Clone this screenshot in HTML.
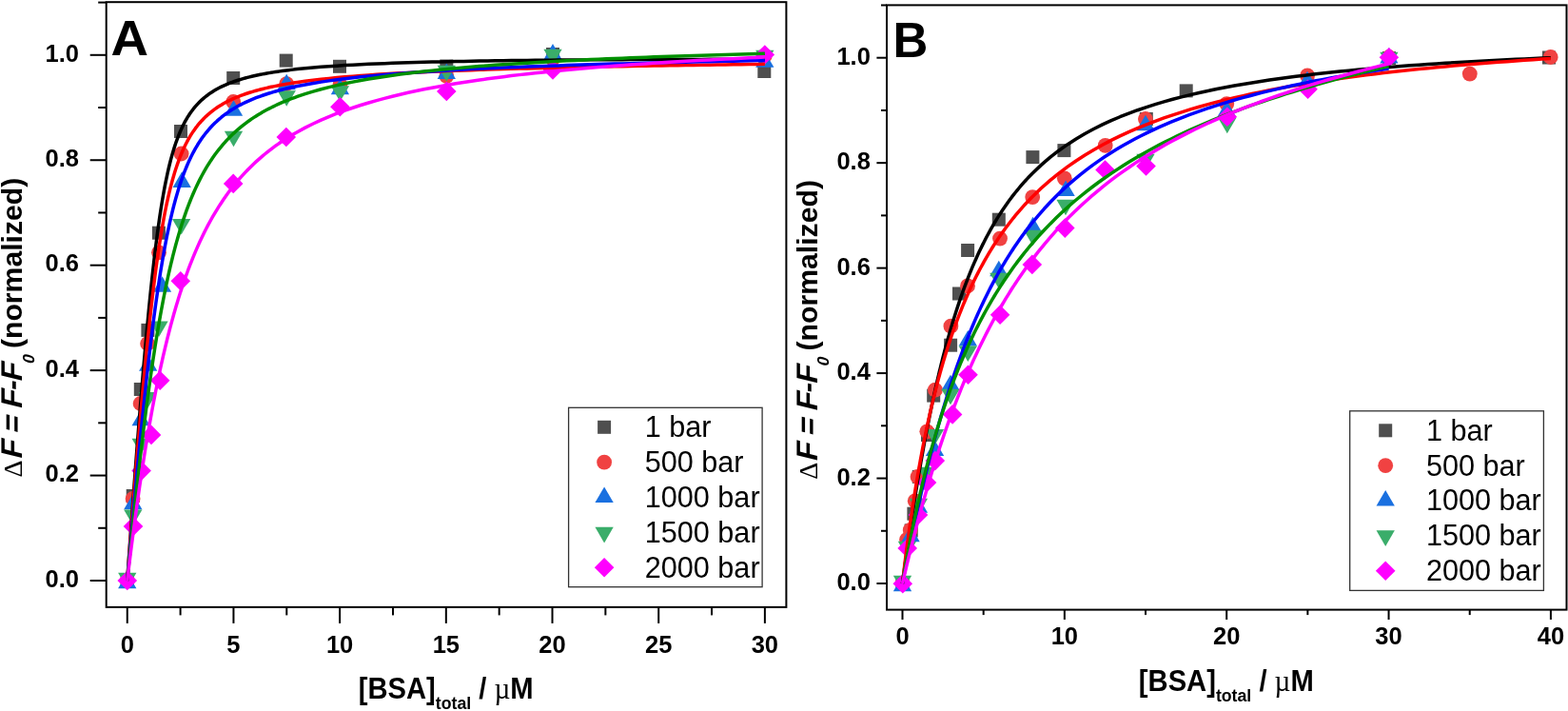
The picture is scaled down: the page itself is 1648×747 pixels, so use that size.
<!DOCTYPE html>
<html><head><meta charset="utf-8"><title>Binding curves</title>
<style>html,body{margin:0;padding:0;background:#fff;}svg{display:block;}</style></head>
<body><svg width="1648" height="747" viewBox="0 0 1648 747">
<rect width="1648" height="747" fill="#fff"/>
<rect x="126.75" y="603" width="14" height="14" fill="#4f4f4f"/>
<rect x="132.7" y="514" width="14" height="14" fill="#4f4f4f"/>
<rect x="140.8" y="402" width="14" height="14" fill="#4f4f4f"/>
<rect x="148.4" y="339.9" width="14" height="14" fill="#4f4f4f"/>
<rect x="159.9" y="237.7" width="14" height="14" fill="#4f4f4f"/>
<rect x="183" y="131" width="14" height="14" fill="#4f4f4f"/>
<rect x="238.2" y="75" width="14" height="14" fill="#4f4f4f"/>
<rect x="293.7" y="56.6" width="14" height="14" fill="#4f4f4f"/>
<rect x="350" y="62.8" width="14" height="14" fill="#4f4f4f"/>
<rect x="462.3" y="62.5" width="14" height="14" fill="#4f4f4f"/>
<rect x="574" y="50" width="14" height="14" fill="#4f4f4f"/>
<rect x="796.3" y="68" width="14" height="14" fill="#4f4f4f"/>
<circle cx="133.75" cy="610" r="7.9" fill="#f04242"/>
<circle cx="139.6" cy="524" r="7.9" fill="#f04242"/>
<circle cx="147.6" cy="424" r="7.9" fill="#f04242"/>
<circle cx="155.1" cy="361" r="7.9" fill="#f04242"/>
<circle cx="167" cy="265.3" r="7.9" fill="#f04242"/>
<circle cx="190.6" cy="161.5" r="7.9" fill="#f04242"/>
<circle cx="245.2" cy="107" r="7.9" fill="#f04242"/>
<circle cx="301.2" cy="88.2" r="7.9" fill="#f04242"/>
<circle cx="357.4" cy="89.2" r="7.9" fill="#f04242"/>
<circle cx="469.3" cy="80" r="7.9" fill="#f04242"/>
<circle cx="581" cy="62" r="7.9" fill="#f04242"/>
<circle cx="803.8" cy="58.5" r="7.9" fill="#f04242"/>
<path d="M133.75,601.7 L143.4,618.3 L124.1,618.3Z" fill="#1a70e0"/>
<path d="M139.8,518.7 L149.45,535.3 L130.15,535.3Z" fill="#1a70e0"/>
<path d="M148.2,430.7 L157.85,447.3 L138.55,447.3Z" fill="#1a70e0"/>
<path d="M155.7,373.2 L165.35,389.8 L146.05,389.8Z" fill="#1a70e0"/>
<path d="M170.5,290.2 L180.15,306.8 L160.85,306.8Z" fill="#1a70e0"/>
<path d="M191.2,180.3 L200.85,196.9 L181.55,196.9Z" fill="#1a70e0"/>
<path d="M245.5,105.2 L255.15,121.8 L235.85,121.8Z" fill="#1a70e0"/>
<path d="M301.2,77.7 L310.85,94.3 L291.55,94.3Z" fill="#1a70e0"/>
<path d="M357.4,82.7 L367.05,99.3 L347.75,99.3Z" fill="#1a70e0"/>
<path d="M469.3,66.4 L478.95,83 L459.65,83Z" fill="#1a70e0"/>
<path d="M581,46.1 L590.65,62.7 L571.35,62.7Z" fill="#1a70e0"/>
<path d="M803.8,54.2 L813.45,70.8 L794.15,70.8Z" fill="#1a70e0"/>
<path d="M124.1,601.7 L143.4,601.7 L133.75,618.3Z" fill="#3aad6a"/>
<path d="M130.15,535.5 L149.45,535.5 L139.8,552.1Z" fill="#3aad6a"/>
<path d="M138.55,460.7 L157.85,460.7 L148.2,477.3Z" fill="#3aad6a"/>
<path d="M145.75,412.1 L165.05,412.1 L155.4,428.7Z" fill="#3aad6a"/>
<path d="M157.35,337.4 L176.65,337.4 L167,354Z" fill="#3aad6a"/>
<path d="M180.95,229.9 L200.25,229.9 L190.6,246.5Z" fill="#3aad6a"/>
<path d="M235.85,137.7 L255.15,137.7 L245.5,154.3Z" fill="#3aad6a"/>
<path d="M291.55,95.2 L310.85,95.2 L301.2,111.8Z" fill="#3aad6a"/>
<path d="M347.75,90.2 L367.05,90.2 L357.4,106.8Z" fill="#3aad6a"/>
<path d="M459.65,68.8 L478.95,68.8 L469.3,85.4Z" fill="#3aad6a"/>
<path d="M571.35,51.7 L590.65,51.7 L581,68.3Z" fill="#3aad6a"/>
<path d="M794.15,52.7 L813.45,52.7 L803.8,69.3Z" fill="#3aad6a"/>
<path d="M133.75,599.7 L144.05,610 L133.75,620.3 L123.45,610Z" fill="#ff00ff"/>
<path d="M140,542.7 L150.3,553 L140,563.3 L129.7,553Z" fill="#ff00ff"/>
<path d="M148.6,484.3 L158.9,494.6 L148.6,504.9 L138.3,494.6Z" fill="#ff00ff"/>
<path d="M159,446.6 L169.3,456.9 L159,467.2 L148.7,456.9Z" fill="#ff00ff"/>
<path d="M168.2,389.5 L178.5,399.8 L168.2,410.1 L157.9,399.8Z" fill="#ff00ff"/>
<path d="M189.8,285 L200.1,295.3 L189.8,305.6 L179.5,295.3Z" fill="#ff00ff"/>
<path d="M245.2,182.6 L255.5,192.9 L245.2,203.2 L234.9,192.9Z" fill="#ff00ff"/>
<path d="M300.8,133.7 L311.1,144 L300.8,154.3 L290.5,144Z" fill="#ff00ff"/>
<path d="M357.4,102 L367.7,112.3 L357.4,122.6 L347.1,112.3Z" fill="#ff00ff"/>
<path d="M469.3,85.7 L479.6,96 L469.3,106.3 L459,96Z" fill="#ff00ff"/>
<path d="M581,63.2 L591.3,73.5 L581,83.8 L570.7,73.5Z" fill="#ff00ff"/>
<path d="M803.8,47.2 L814.1,57.5 L803.8,67.8 L793.5,57.5Z" fill="#ff00ff"/>
<path d="M133.75,610 L134.99,592.55 L136.23,575.24 L137.47,558.08 L138.71,541.09 L139.96,524.26 L141.2,507.63 L142.44,491.2 L143.68,474.98 L144.92,459 L145.87,446.97 L146.81,435.1 L147.76,423.4 L148.71,411.86 L149.65,400.5 L150.6,389.33 L151.54,378.36 L152.49,367.59 L153.44,357.03 L154.38,346.71 L155.33,336.61 L156.28,326.75 L157.22,317.15 L158.17,307.8 L159.12,298.71 L160.06,289.89 L161.01,281.34 L161.96,273.07 L162.9,265.08 L163.85,257.38 L164.8,249.95 L165.74,242.81 L166.69,235.95 L167.64,229.37 L168.58,223.05 L169.53,217.01 L170.48,211.23 L171.42,205.71 L172.37,200.43 L173.31,195.4 L174.26,190.59 L175.21,186.02 L176.15,181.65 L177.1,177.49 L178.05,173.53 L178.99,169.76 L179.94,166.16 L180.89,162.74 L181.83,159.48 L182.78,156.37 L183.73,153.4 L184.67,150.57 L185.62,147.88 L186.57,145.3 L187.51,142.85 L188.46,140.5 L189.41,138.26 L190.35,136.12 L191.3,134.07 L192.25,132.11 L193.19,130.23 L194.14,128.43 L195.08,126.71 L196.03,125.06 L196.98,123.47 L197.92,121.95 L198.87,120.49 L199.82,119.08 L200.76,117.73 L203.04,114.68 L205.32,111.9 L207.6,109.35 L209.88,107 L212.16,104.84 L214.44,102.85 L216.72,101 L219,99.28 L221.28,97.68 L223.56,96.2 L225.84,94.81 L228.12,93.51 L230.4,92.29 L232.68,91.14 L234.95,90.06 L237.23,89.05 L239.51,88.09 L241.79,87.18 L244.07,86.32 L246.35,85.51 L248.63,84.74 L250.91,84.01 L253.19,83.31 L255.47,82.65 L257.75,82.01 L260.03,81.41 L262.31,80.84 L264.59,80.28 L266.87,79.76 L269.15,79.25 L271.43,78.77 L273.7,78.31 L275.98,77.86 L278.26,77.44 L280.54,77.02 L282.82,76.63 L285.1,76.25 L287.38,75.88 L289.66,75.53 L291.94,75.19 L294.22,74.86 L296.5,74.55 L298.78,74.24 L301.06,73.95 L303.34,73.66 L305.62,73.38 L307.9,73.12 L310.17,72.86 L312.45,72.61 L320.78,71.76 L329.11,70.99 L337.44,70.31 L345.77,69.69 L354.1,69.13 L362.43,68.61 L370.76,68.15 L379.09,67.72 L387.42,67.33 L395.75,66.97 L404.08,66.63 L412.41,66.33 L420.74,66.04 L429.07,65.78 L437.4,65.53 L445.72,65.3 L454.05,65.09 L462.38,64.9 L470.71,64.71 L479.04,64.54 L487.37,64.38 L495.7,64.23 L504.03,64.09 L512.36,63.96 L520.69,63.83 L529.02,63.72 L537.35,63.61 L545.68,63.51 L554.01,63.41 L562.34,63.33 L570.67,63.24 L579,63.16 L587.32,63.09 L595.65,63.02 L603.98,62.96 L612.31,62.9 L620.64,62.84 L628.97,62.79 L637.3,62.74 L645.63,62.7 L653.96,62.65 L662.29,62.62 L670.62,62.58 L678.95,62.55 L687.28,62.52 L695.61,62.49 L703.94,62.46 L712.27,62.44 L720.6,62.42 L728.93,62.4 L737.25,62.38 L745.58,62.36 L753.91,62.35 L762.24,62.34 L770.57,62.33 L778.9,62.32 L787.23,62.31 L795.56,62.3 L803.89,62.3" fill="none" stroke="#000000" stroke-width="3.5" stroke-linejoin="round" stroke-linecap="butt"/>
<path d="M133.75,610 L134.99,593.61 L136.23,577.38 L137.47,561.31 L138.71,545.42 L139.96,529.72 L141.2,514.22 L142.44,498.93 L143.68,483.87 L144.92,469.05 L145.87,457.91 L146.81,446.94 L147.76,436.12 L148.71,425.47 L149.65,414.99 L150.6,404.7 L151.54,394.6 L152.49,384.68 L153.44,374.97 L154.38,365.47 L155.33,356.18 L156.28,347.11 L157.22,338.26 L158.17,329.64 L159.12,321.24 L160.06,313.09 L161.01,305.17 L161.96,297.48 L162.9,290.04 L163.85,282.84 L164.8,275.87 L165.74,269.14 L166.69,262.65 L167.64,256.4 L168.58,250.37 L169.53,244.57 L170.48,238.99 L171.42,233.62 L172.37,228.47 L173.31,223.52 L174.26,218.77 L175.21,214.22 L176.15,209.85 L177.1,205.66 L178.05,201.64 L178.99,197.79 L179.94,194.1 L180.89,190.56 L181.83,187.17 L182.78,183.91 L183.73,180.8 L184.67,177.8 L185.62,174.94 L186.57,172.18 L187.51,169.54 L188.46,167 L189.41,164.57 L190.35,162.23 L191.3,159.98 L192.25,157.82 L193.19,155.74 L194.14,153.74 L195.08,151.82 L196.03,149.97 L196.98,148.18 L197.92,146.46 L198.87,144.8 L199.82,143.2 L200.76,141.66 L203.04,138.16 L205.32,134.94 L207.6,131.97 L209.88,129.22 L212.16,126.68 L214.44,124.31 L216.72,122.11 L219,120.05 L221.28,118.13 L223.56,116.33 L225.84,114.65 L228.12,113.06 L230.4,111.57 L232.68,110.17 L234.95,108.84 L237.23,107.58 L239.51,106.39 L241.79,105.27 L244.07,104.2 L246.35,103.18 L248.63,102.21 L250.91,101.29 L253.19,100.41 L255.47,99.57 L257.75,98.77 L260.03,98 L262.31,97.26 L264.59,96.56 L266.87,95.88 L269.15,95.23 L271.43,94.61 L273.7,94.01 L275.98,93.43 L278.26,92.87 L280.54,92.34 L282.82,91.82 L285.1,91.32 L287.38,90.84 L289.66,90.37 L291.94,89.92 L294.22,89.49 L296.5,89.07 L298.78,88.66 L301.06,88.26 L303.34,87.88 L305.62,87.51 L307.9,87.14 L310.17,86.79 L312.45,86.45 L320.78,85.29 L329.11,84.23 L337.44,83.27 L345.77,82.39 L354.1,81.58 L362.43,80.84 L370.76,80.15 L379.09,79.51 L387.42,78.91 L395.75,78.35 L404.08,77.83 L412.41,77.34 L420.74,76.87 L429.07,76.44 L437.4,76.03 L445.72,75.63 L454.05,75.26 L462.38,74.91 L470.71,74.57 L479.04,74.25 L487.37,73.94 L495.7,73.65 L504.03,73.37 L512.36,73.1 L520.69,72.84 L529.02,72.59 L537.35,72.35 L545.68,72.12 L554.01,71.89 L562.34,71.67 L570.67,71.46 L579,71.26 L587.32,71.06 L595.65,70.87 L603.98,70.69 L612.31,70.51 L620.64,70.33 L628.97,70.16 L637.3,70 L645.63,69.83 L653.96,69.68 L662.29,69.52 L670.62,69.37 L678.95,69.23 L687.28,69.08 L695.61,68.94 L703.94,68.8 L712.27,68.67 L720.6,68.54 L728.93,68.41 L737.25,68.28 L745.58,68.16 L753.91,68.04 L762.24,67.92 L770.57,67.8 L778.9,67.68 L787.23,67.57 L795.56,67.46 L803.89,67.35" fill="none" stroke="#ff0000" stroke-width="3.5" stroke-linejoin="round" stroke-linecap="butt"/>
<path d="M133.75,610 L134.99,595.68 L136.23,581.5 L137.47,567.47 L138.71,553.58 L139.96,539.86 L141.2,526.3 L142.44,512.92 L143.68,499.72 L144.92,486.72 L145.87,476.94 L146.81,467.28 L147.76,457.74 L148.71,448.34 L149.65,439.07 L150.6,429.93 L151.54,420.94 L152.49,412.09 L153.44,403.39 L154.38,394.84 L155.33,386.45 L156.28,378.22 L157.22,370.15 L158.17,362.24 L159.12,354.5 L160.06,346.93 L161.01,339.53 L161.96,332.3 L162.9,325.25 L163.85,318.37 L164.8,311.67 L165.74,305.14 L166.69,298.79 L167.64,292.61 L168.58,286.6 L169.53,280.77 L170.48,275.11 L171.42,269.61 L172.37,264.29 L173.31,259.12 L174.26,254.12 L175.21,249.28 L176.15,244.59 L177.1,240.05 L178.05,235.66 L178.99,231.41 L179.94,227.31 L180.89,223.34 L181.83,219.5 L182.78,215.8 L183.73,212.21 L184.67,208.75 L185.62,205.41 L186.57,202.17 L187.51,199.05 L188.46,196.03 L189.41,193.11 L190.35,190.29 L191.3,187.57 L192.25,184.93 L193.19,182.38 L194.14,179.92 L195.08,177.53 L196.03,175.23 L196.98,173 L197.92,170.84 L198.87,168.75 L199.82,166.72 L200.76,164.76 L203.04,160.29 L205.32,156.13 L207.6,152.28 L209.88,148.68 L212.16,145.34 L214.44,142.21 L216.72,139.29 L219,136.55 L221.28,133.98 L223.56,131.57 L225.84,129.3 L228.12,127.16 L230.4,125.14 L232.68,123.23 L234.95,121.42 L237.23,119.71 L239.51,118.09 L241.79,116.55 L244.07,115.08 L246.35,113.69 L248.63,112.36 L250.91,111.09 L253.19,109.88 L255.47,108.73 L257.75,107.62 L260.03,106.56 L262.31,105.55 L264.59,104.57 L266.87,103.64 L269.15,102.74 L271.43,101.88 L273.7,101.05 L275.98,100.25 L278.26,99.47 L280.54,98.73 L282.82,98.01 L285.1,97.32 L287.38,96.65 L289.66,96.01 L291.94,95.38 L294.22,94.78 L296.5,94.19 L298.78,93.62 L301.06,93.07 L303.34,92.54 L305.62,92.02 L307.9,91.52 L310.17,91.03 L312.45,90.55 L320.78,88.93 L329.11,87.46 L337.44,86.11 L345.77,84.89 L354.1,83.76 L362.43,82.71 L370.76,81.75 L379.09,80.85 L387.42,80.01 L395.75,79.23 L404.08,78.49 L412.41,77.8 L420.74,77.15 L429.07,76.54 L437.4,75.95 L445.72,75.4 L454.05,74.88 L462.38,74.38 L470.71,73.9 L479.04,73.44 L487.37,73.01 L495.7,72.59 L504.03,72.19 L512.36,71.81 L520.69,71.43 L529.02,71.08 L537.35,70.73 L545.68,70.4 L554.01,70.08 L562.34,69.77 L570.67,69.47 L579,69.18 L587.32,68.89 L595.65,68.62 L603.98,68.35 L612.31,68.09 L620.64,67.84 L628.97,67.59 L637.3,67.35 L645.63,67.11 L653.96,66.88 L662.29,66.66 L670.62,66.44 L678.95,66.23 L687.28,66.02 L695.61,65.81 L703.94,65.61 L712.27,65.41 L720.6,65.22 L728.93,65.03 L737.25,64.84 L745.58,64.66 L753.91,64.48 L762.24,64.3 L770.57,64.13 L778.9,63.96 L787.23,63.79 L795.56,63.62 L803.89,63.46" fill="none" stroke="#0000ff" stroke-width="3.5" stroke-linejoin="round" stroke-linecap="butt"/>
<path d="M133.75,610 L134.99,597.27 L136.23,584.72 L137.47,572.36 L138.71,560.18 L139.96,548.19 L141.2,536.4 L142.44,524.8 L143.68,513.41 L144.92,502.23 L145.87,493.84 L146.81,485.58 L147.76,477.44 L148.71,469.42 L149.65,461.54 L150.6,453.78 L151.54,446.15 L152.49,438.66 L153.44,431.29 L154.38,424.05 L155.33,416.95 L156.28,409.97 L157.22,403.13 L158.17,396.42 L159.12,389.84 L160.06,383.39 L161.01,377.07 L161.96,370.88 L162.9,364.82 L163.85,358.89 L164.8,353.08 L165.74,347.4 L166.69,341.84 L167.64,336.41 L168.58,331.1 L169.53,325.9 L170.48,320.83 L171.42,315.87 L172.37,311.02 L173.31,306.29 L174.26,301.67 L175.21,297.16 L176.15,292.75 L177.1,288.45 L178.05,284.26 L178.99,280.16 L179.94,276.16 L180.89,272.26 L181.83,268.45 L182.78,264.73 L183.73,261.11 L184.67,257.57 L185.62,254.12 L186.57,250.75 L187.51,247.46 L188.46,244.25 L189.41,241.12 L190.35,238.07 L191.3,235.08 L192.25,232.17 L193.19,229.33 L194.14,226.56 L195.08,223.86 L196.03,221.21 L196.98,218.63 L197.92,216.12 L198.87,213.66 L199.82,211.25 L200.76,208.91 L203.04,203.48 L205.32,198.34 L207.6,193.48 L209.88,188.88 L212.16,184.51 L214.44,180.37 L216.72,176.44 L219,172.71 L221.28,169.16 L223.56,165.78 L225.84,162.56 L228.12,159.5 L230.4,156.57 L232.68,153.78 L234.95,151.11 L237.23,148.55 L239.51,146.11 L241.79,143.77 L244.07,141.53 L246.35,139.38 L248.63,137.32 L250.91,135.33 L253.19,133.43 L255.47,131.6 L257.75,129.84 L260.03,128.14 L262.31,126.51 L264.59,124.93 L266.87,123.41 L269.15,121.95 L271.43,120.53 L273.7,119.17 L275.98,117.84 L278.26,116.57 L280.54,115.33 L282.82,114.13 L285.1,112.97 L287.38,111.85 L289.66,110.76 L291.94,109.7 L294.22,108.68 L296.5,107.68 L298.78,106.72 L301.06,105.78 L303.34,104.87 L305.62,103.98 L307.9,103.12 L310.17,102.28 L312.45,101.46 L320.78,98.66 L329.11,96.1 L337.44,93.76 L345.77,91.62 L354.1,89.64 L362.43,87.82 L370.76,86.12 L379.09,84.55 L387.42,83.08 L395.75,81.71 L404.08,80.43 L412.41,79.23 L420.74,78.1 L429.07,77.03 L437.4,76.02 L445.72,75.07 L454.05,74.17 L462.38,73.31 L470.71,72.5 L479.04,71.73 L487.37,70.99 L495.7,70.29 L504.03,69.61 L512.36,68.97 L520.69,68.36 L529.02,67.77 L537.35,67.2 L545.68,66.66 L554.01,66.14 L562.34,65.64 L570.67,65.16 L579,64.69 L587.32,64.24 L595.65,63.81 L603.98,63.39 L612.31,62.99 L620.64,62.6 L628.97,62.22 L637.3,61.85 L645.63,61.49 L653.96,61.15 L662.29,60.81 L670.62,60.49 L678.95,60.17 L687.28,59.87 L695.61,59.57 L703.94,59.28 L712.27,59 L720.6,58.72 L728.93,58.45 L737.25,58.19 L745.58,57.94 L753.91,57.69 L762.24,57.44 L770.57,57.21 L778.9,56.97 L787.23,56.75 L795.56,56.53 L803.89,56.31" fill="none" stroke="#009000" stroke-width="3.5" stroke-linejoin="round" stroke-linecap="butt"/>
<path d="M133.75,610 L134.99,599.66 L136.23,589.51 L137.47,579.55 L138.71,569.78 L139.96,560.19 L141.2,550.8 L142.44,541.58 L143.68,532.55 L144.92,523.71 L145.87,517.08 L146.81,510.56 L147.76,504.14 L148.71,497.83 L149.65,491.62 L150.6,485.51 L151.54,479.5 L152.49,473.59 L153.44,467.78 L154.38,462.06 L155.33,456.44 L156.28,450.92 L157.22,445.49 L158.17,440.15 L159.12,434.91 L160.06,429.75 L161.01,424.69 L161.96,419.71 L162.9,414.81 L163.85,410.01 L164.8,405.29 L165.74,400.65 L166.69,396.09 L167.64,391.61 L168.58,387.21 L169.53,382.89 L170.48,378.64 L171.42,374.47 L172.37,370.37 L173.31,366.35 L174.26,362.39 L175.21,358.51 L176.15,354.7 L177.1,350.95 L178.05,347.27 L178.99,343.65 L179.94,340.1 L180.89,336.6 L181.83,333.17 L182.78,329.81 L183.73,326.49 L184.67,323.24 L185.62,320.05 L186.57,316.91 L187.51,313.82 L188.46,310.79 L189.41,307.81 L190.35,304.88 L191.3,302 L192.25,299.17 L193.19,296.39 L194.14,293.65 L195.08,290.97 L196.03,288.32 L196.98,285.73 L197.92,283.17 L198.87,280.66 L199.82,278.19 L200.76,275.76 L203.04,270.08 L205.32,264.61 L207.6,259.36 L209.88,254.31 L212.16,249.44 L214.44,244.76 L216.72,240.26 L219,235.92 L221.28,231.73 L223.56,227.7 L225.84,223.8 L228.12,220.05 L230.4,216.42 L232.68,212.92 L234.95,209.53 L237.23,206.26 L239.51,203.1 L241.79,200.04 L244.07,197.07 L246.35,194.2 L248.63,191.42 L250.91,188.73 L253.19,186.12 L255.47,183.59 L257.75,181.14 L260.03,178.75 L262.31,176.44 L264.59,174.19 L266.87,172.01 L269.15,169.89 L271.43,167.83 L273.7,165.83 L275.98,163.88 L278.26,161.98 L280.54,160.13 L282.82,158.33 L285.1,156.58 L287.38,154.88 L289.66,153.21 L291.94,151.59 L294.22,150.01 L296.5,148.47 L298.78,146.97 L301.06,145.5 L303.34,144.07 L305.62,142.67 L307.9,141.31 L310.17,139.97 L312.45,138.67 L320.78,134.15 L329.11,129.98 L337.44,126.12 L345.77,122.55 L354.1,119.22 L362.43,116.12 L370.76,113.23 L379.09,110.52 L387.42,107.98 L395.75,105.59 L404.08,103.34 L412.41,101.22 L420.74,99.22 L429.07,97.32 L437.4,95.53 L445.72,93.83 L454.05,92.21 L462.38,90.67 L470.71,89.21 L479.04,87.81 L487.37,86.48 L495.7,85.21 L504.03,83.99 L512.36,82.82 L520.69,81.71 L529.02,80.64 L537.35,79.61 L545.68,78.63 L554.01,77.68 L562.34,76.77 L570.67,75.89 L579,75.04 L587.32,74.23 L595.65,73.44 L603.98,72.68 L612.31,71.95 L620.64,71.24 L628.97,70.56 L637.3,69.9 L645.63,69.25 L653.96,68.63 L662.29,68.03 L670.62,67.45 L678.95,66.88 L687.28,66.33 L695.61,65.8 L703.94,65.28 L712.27,64.78 L720.6,64.29 L728.93,63.82 L737.25,63.36 L745.58,62.91 L753.91,62.47 L762.24,62.04 L770.57,61.63 L778.9,61.22 L787.23,60.83 L795.56,60.45 L803.89,60.07" fill="none" stroke="#ff00ff" stroke-width="3.5" stroke-linejoin="round" stroke-linecap="butt"/>
<rect x="111.7" y="2.2" width="714.7" height="635.7" fill="none" stroke="#000" stroke-width="2"/>
<line x1="94.7" y1="610" x2="111.7" y2="610" stroke="#000" stroke-width="2"/>
<text x="83" y="616.8" text-anchor="end" font-size="25.5" font-weight="bold" font-family="Liberation Sans, Arial, sans-serif">0.0</text>
<line x1="103.2" y1="554.78" x2="111.7" y2="554.78" stroke="#000" stroke-width="2"/>
<line x1="94.7" y1="499.56" x2="111.7" y2="499.56" stroke="#000" stroke-width="2"/>
<text x="83" y="506.36" text-anchor="end" font-size="25.5" font-weight="bold" font-family="Liberation Sans, Arial, sans-serif">0.2</text>
<line x1="103.2" y1="444.34" x2="111.7" y2="444.34" stroke="#000" stroke-width="2"/>
<line x1="94.7" y1="389.12" x2="111.7" y2="389.12" stroke="#000" stroke-width="2"/>
<text x="83" y="395.92" text-anchor="end" font-size="25.5" font-weight="bold" font-family="Liberation Sans, Arial, sans-serif">0.4</text>
<line x1="103.2" y1="333.9" x2="111.7" y2="333.9" stroke="#000" stroke-width="2"/>
<line x1="94.7" y1="278.68" x2="111.7" y2="278.68" stroke="#000" stroke-width="2"/>
<text x="83" y="285.48" text-anchor="end" font-size="25.5" font-weight="bold" font-family="Liberation Sans, Arial, sans-serif">0.6</text>
<line x1="103.2" y1="223.46" x2="111.7" y2="223.46" stroke="#000" stroke-width="2"/>
<line x1="94.7" y1="168.24" x2="111.7" y2="168.24" stroke="#000" stroke-width="2"/>
<text x="83" y="175.04" text-anchor="end" font-size="25.5" font-weight="bold" font-family="Liberation Sans, Arial, sans-serif">0.8</text>
<line x1="103.2" y1="113.02" x2="111.7" y2="113.02" stroke="#000" stroke-width="2"/>
<line x1="94.7" y1="57.8" x2="111.7" y2="57.8" stroke="#000" stroke-width="2"/>
<text x="83" y="64.6" text-anchor="end" font-size="25.5" font-weight="bold" font-family="Liberation Sans, Arial, sans-serif">1.0</text>
<line x1="103.2" y1="2.58" x2="111.7" y2="2.58" stroke="#000" stroke-width="2"/>
<line x1="133.75" y1="637.9" x2="133.75" y2="654.9" stroke="#000" stroke-width="2"/>
<text x="133.75" y="685.7" text-anchor="middle" font-size="25.5" font-weight="bold" font-family="Liberation Sans, Arial, sans-serif">0</text>
<line x1="189.59" y1="637.9" x2="189.59" y2="646.4" stroke="#000" stroke-width="2"/>
<line x1="245.44" y1="637.9" x2="245.44" y2="654.9" stroke="#000" stroke-width="2"/>
<text x="245.44" y="685.7" text-anchor="middle" font-size="25.5" font-weight="bold" font-family="Liberation Sans, Arial, sans-serif">5</text>
<line x1="301.28" y1="637.9" x2="301.28" y2="646.4" stroke="#000" stroke-width="2"/>
<line x1="357.13" y1="637.9" x2="357.13" y2="654.9" stroke="#000" stroke-width="2"/>
<text x="357.13" y="685.7" text-anchor="middle" font-size="25.5" font-weight="bold" font-family="Liberation Sans, Arial, sans-serif">10</text>
<line x1="412.98" y1="637.9" x2="412.98" y2="646.4" stroke="#000" stroke-width="2"/>
<line x1="468.82" y1="637.9" x2="468.82" y2="654.9" stroke="#000" stroke-width="2"/>
<text x="468.82" y="685.7" text-anchor="middle" font-size="25.5" font-weight="bold" font-family="Liberation Sans, Arial, sans-serif">15</text>
<line x1="524.66" y1="637.9" x2="524.66" y2="646.4" stroke="#000" stroke-width="2"/>
<line x1="580.51" y1="637.9" x2="580.51" y2="654.9" stroke="#000" stroke-width="2"/>
<text x="580.51" y="685.7" text-anchor="middle" font-size="25.5" font-weight="bold" font-family="Liberation Sans, Arial, sans-serif">20</text>
<line x1="636.36" y1="637.9" x2="636.36" y2="646.4" stroke="#000" stroke-width="2"/>
<line x1="692.2" y1="637.9" x2="692.2" y2="654.9" stroke="#000" stroke-width="2"/>
<text x="692.2" y="685.7" text-anchor="middle" font-size="25.5" font-weight="bold" font-family="Liberation Sans, Arial, sans-serif">25</text>
<line x1="748.05" y1="637.9" x2="748.05" y2="646.4" stroke="#000" stroke-width="2"/>
<line x1="803.89" y1="637.9" x2="803.89" y2="654.9" stroke="#000" stroke-width="2"/>
<text x="803.89" y="685.7" text-anchor="middle" font-size="25.5" font-weight="bold" font-family="Liberation Sans, Arial, sans-serif">30</text>
<rect x="597.6" y="428.3" width="203.5" height="188.4" fill="#fff" stroke="#333" stroke-width="1.3"/>
<rect x="628.1" y="441.8" width="14" height="14" fill="#4f4f4f"/>
<text x="677.8" y="459.2" font-size="30.6" font-family="Liberation Sans, Arial, sans-serif">1 bar</text>
<circle cx="635.1" cy="485.65" r="7.9" fill="#f04242"/>
<text x="677.8" y="496.05" font-size="30.6" font-family="Liberation Sans, Arial, sans-serif">500 bar</text>
<path d="M635.1,511.43 L644.75,528.03 L625.45,528.03Z" fill="#1a70e0"/>
<text x="677.8" y="532.9" font-size="30.6" font-family="Liberation Sans, Arial, sans-serif">1000 bar</text>
<path d="M625.45,553.82 L644.75,553.82 L635.1,570.42Z" fill="#3aad6a"/>
<text x="677.8" y="569.75" font-size="30.6" font-family="Liberation Sans, Arial, sans-serif">1500 bar</text>
<path d="M635.1,585.9 L645.4,596.2 L635.1,606.5 L624.8,596.2Z" fill="#ff00ff"/>
<text x="677.8" y="606.6" font-size="30.6" font-family="Liberation Sans, Arial, sans-serif">2000 bar</text>
<text transform="translate(116.5,57.8) scale(1.06,1)" font-size="51.6" font-weight="bold" font-family="Liberation Sans, Arial, sans-serif">A</text>
<text transform="translate(468.7,733.5) scale(0.99,1.075)" text-anchor="middle" font-size="29.5" font-weight="bold" font-family="Liberation Sans, Arial, sans-serif">[BSA]<tspan font-size="17.9" dy="10.9">total</tspan><tspan dy="-10.9"> / </tspan><tspan font-family="Liberation Serif, serif" font-weight="normal">&#181;</tspan>M</text>
<g transform="translate(23.3,500.6) rotate(-90)" font-weight="bold" font-size="30.2" font-family="Liberation Sans, Arial, sans-serif">
<text x="-0.8" y="0" font-family="Liberation Serif, serif" font-weight="normal" font-size="28">&#916;</text>
<text transform="translate(17.5,0) skewX(-13.5)" font-size="31.4" letter-spacing="-0.55">F = F-F</text>
<text transform="translate(117.5,12.2) skewX(-13.5)" font-size="17.3">0</text>
<text x="134.5" y="0">(normalized)</text>
</g>
<rect x="941.5" y="606" width="14" height="14" fill="#4f4f4f"/>
<rect x="950.7" y="550.4" width="14" height="14" fill="#4f4f4f"/>
<rect x="953.4" y="532.7" width="14" height="14" fill="#4f4f4f"/>
<rect x="958.8" y="493.9" width="14" height="14" fill="#4f4f4f"/>
<rect x="968" y="450" width="14" height="14" fill="#4f4f4f"/>
<rect x="974.2" y="408.6" width="14" height="14" fill="#4f4f4f"/>
<rect x="992.1" y="355.7" width="14" height="14" fill="#4f4f4f"/>
<rect x="1001" y="301.5" width="14" height="14" fill="#4f4f4f"/>
<rect x="1010.1" y="256" width="14" height="14" fill="#4f4f4f"/>
<rect x="1042.8" y="223.7" width="14" height="14" fill="#4f4f4f"/>
<rect x="1078.4" y="158.1" width="14" height="14" fill="#4f4f4f"/>
<rect x="1111.4" y="151.1" width="14" height="14" fill="#4f4f4f"/>
<rect x="1197.8" y="118" width="14" height="14" fill="#4f4f4f"/>
<rect x="1239.7" y="88.4" width="14" height="14" fill="#4f4f4f"/>
<rect x="1453" y="54" width="14" height="14" fill="#4f4f4f"/>
<rect x="1621" y="53.5" width="14" height="14" fill="#4f4f4f"/>
<circle cx="948.5" cy="613" r="7.9" fill="#f04242"/>
<circle cx="953" cy="567" r="7.9" fill="#f04242"/>
<circle cx="956.7" cy="556.9" r="7.9" fill="#f04242"/>
<circle cx="961.7" cy="526.3" r="7.9" fill="#f04242"/>
<circle cx="964.5" cy="501" r="7.9" fill="#f04242"/>
<circle cx="974.3" cy="453.3" r="7.9" fill="#f04242"/>
<circle cx="982.9" cy="409.7" r="7.9" fill="#f04242"/>
<circle cx="999.4" cy="342.7" r="7.9" fill="#f04242"/>
<circle cx="1017" cy="300.4" r="7.9" fill="#f04242"/>
<circle cx="1051" cy="250.6" r="7.9" fill="#f04242"/>
<circle cx="1085.2" cy="207.1" r="7.9" fill="#f04242"/>
<circle cx="1118.8" cy="187.3" r="7.9" fill="#f04242"/>
<circle cx="1161.7" cy="152.8" r="7.9" fill="#f04242"/>
<circle cx="1203.9" cy="125" r="7.9" fill="#f04242"/>
<circle cx="1289.3" cy="109.1" r="7.9" fill="#f04242"/>
<circle cx="1374.1" cy="79.4" r="7.9" fill="#f04242"/>
<circle cx="1459.9" cy="60" r="7.9" fill="#f04242"/>
<circle cx="1544.8" cy="77.6" r="7.9" fill="#f04242"/>
<circle cx="1629.7" cy="60" r="7.9" fill="#f04242"/>
<path d="M948.5,604.7 L958.15,621.3 L938.85,621.3Z" fill="#1a70e0"/>
<path d="M957.1,552.7 L966.75,569.3 L947.45,569.3Z" fill="#1a70e0"/>
<path d="M965.4,522.1 L975.05,538.7 L955.75,538.7Z" fill="#1a70e0"/>
<path d="M982.5,462.4 L992.15,479 L972.85,479Z" fill="#1a70e0"/>
<path d="M999,393.7 L1008.65,410.3 L989.35,410.3Z" fill="#1a70e0"/>
<path d="M1017.3,346.9 L1026.95,363.5 L1007.65,363.5Z" fill="#1a70e0"/>
<path d="M1049.8,273.7 L1059.45,290.3 L1040.15,290.3Z" fill="#1a70e0"/>
<path d="M1085.6,227.7 L1095.25,244.3 L1075.95,244.3Z" fill="#1a70e0"/>
<path d="M1120.1,189.4 L1129.75,206 L1110.45,206Z" fill="#1a70e0"/>
<path d="M1204,120.7 L1213.65,137.3 L1194.35,137.3Z" fill="#1a70e0"/>
<path d="M1289.3,105.7 L1298.95,122.3 L1279.65,122.3Z" fill="#1a70e0"/>
<path d="M1374,74.7 L1383.65,91.3 L1364.35,91.3Z" fill="#1a70e0"/>
<path d="M1459.9,50 L1469.55,66.6 L1450.25,66.6Z" fill="#1a70e0"/>
<path d="M938.85,604.7 L958.15,604.7 L948.5,621.3Z" fill="#3aad6a"/>
<path d="M943.75,568.7 L963.05,568.7 L953.4,585.3Z" fill="#3aad6a"/>
<path d="M955.75,523.7 L975.05,523.7 L965.4,540.3Z" fill="#3aad6a"/>
<path d="M964.35,490.7 L983.65,490.7 L974,507.3Z" fill="#3aad6a"/>
<path d="M972.85,451.1 L992.15,451.1 L982.5,467.7Z" fill="#3aad6a"/>
<path d="M989.35,408.7 L1008.65,408.7 L999,425.3Z" fill="#3aad6a"/>
<path d="M1007.65,363.4 L1026.95,363.4 L1017.3,380Z" fill="#3aad6a"/>
<path d="M1040.15,286.7 L1059.45,286.7 L1049.8,303.3Z" fill="#3aad6a"/>
<path d="M1075.95,241.7 L1095.25,241.7 L1085.6,258.3Z" fill="#3aad6a"/>
<path d="M1110.35,209.7 L1129.65,209.7 L1120,226.3Z" fill="#3aad6a"/>
<path d="M1194.35,161.7 L1213.65,161.7 L1204,178.3Z" fill="#3aad6a"/>
<path d="M1280.15,123.7 L1299.45,123.7 L1289.8,140.3Z" fill="#3aad6a"/>
<path d="M1450.25,54.7 L1469.55,54.7 L1459.9,71.3Z" fill="#3aad6a"/>
<path d="M948.8,602.9 L959.1,613.2 L948.8,623.5 L938.5,613.2Z" fill="#ff00ff"/>
<path d="M953.7,565.6 L964,575.9 L953.7,586.2 L943.4,575.9Z" fill="#ff00ff"/>
<path d="M965,530.7 L975.3,541 L965,551.3 L954.7,541Z" fill="#ff00ff"/>
<path d="M974,496.7 L984.3,507 L974,517.3 L963.7,507Z" fill="#ff00ff"/>
<path d="M982.8,473.8 L993.1,484.1 L982.8,494.4 L972.5,484.1Z" fill="#ff00ff"/>
<path d="M1001.1,425.1 L1011.4,435.4 L1001.1,445.7 L990.8,435.4Z" fill="#ff00ff"/>
<path d="M1017.5,383.4 L1027.8,393.7 L1017.5,404 L1007.2,393.7Z" fill="#ff00ff"/>
<path d="M1051.1,320.4 L1061.4,330.7 L1051.1,341 L1040.8,330.7Z" fill="#ff00ff"/>
<path d="M1084.8,267.6 L1095.1,277.9 L1084.8,288.2 L1074.5,277.9Z" fill="#ff00ff"/>
<path d="M1119.3,229.3 L1129.6,239.6 L1119.3,249.9 L1109,239.6Z" fill="#ff00ff"/>
<path d="M1161.5,168.2 L1171.8,178.5 L1161.5,188.8 L1151.2,178.5Z" fill="#ff00ff"/>
<path d="M1204.5,164.2 L1214.8,174.5 L1204.5,184.8 L1194.2,174.5Z" fill="#ff00ff"/>
<path d="M1289.8,112.4 L1300.1,122.7 L1289.8,133 L1279.5,122.7Z" fill="#ff00ff"/>
<path d="M1374.6,83.5 L1384.9,93.8 L1374.6,104.1 L1364.3,93.8Z" fill="#ff00ff"/>
<path d="M1459.9,49.9 L1470.2,60.2 L1459.9,70.5 L1449.6,60.2Z" fill="#ff00ff"/>
<path d="M948.5,613 L949.45,605.93 L950.39,598.95 L951.34,592.06 L952.29,585.26 L953.23,578.54 L954.18,571.92 L955.12,565.38 L956.07,558.92 L957.02,552.56 L957.74,547.76 L958.46,543.01 L959.18,538.31 L959.9,533.66 L960.63,529.06 L961.35,524.51 L962.07,520.01 L962.79,515.55 L963.51,511.15 L964.24,506.79 L964.96,502.48 L965.68,498.21 L966.4,494 L967.12,489.83 L967.84,485.7 L968.57,481.63 L969.29,477.59 L970.01,473.61 L970.73,469.66 L971.45,465.77 L972.18,461.91 L972.9,458.1 L973.62,454.34 L974.34,450.61 L975.06,446.93 L975.78,443.3 L976.51,439.7 L977.23,436.15 L977.95,432.63 L978.67,429.16 L979.39,425.73 L980.12,422.34 L980.84,418.99 L981.56,415.67 L982.28,412.4 L983,409.16 L983.72,405.97 L984.45,402.81 L985.17,399.68 L985.89,396.6 L986.61,393.55 L987.33,390.53 L988.06,387.55 L988.78,384.61 L989.5,381.7 L990.22,378.83 L990.94,375.99 L991.66,373.18 L992.39,370.41 L993.11,367.67 L993.83,364.96 L994.55,362.29 L995.27,359.64 L996,357.03 L996.72,354.44 L997.44,351.89 L998.16,349.37 L998.88,346.88 L999.61,344.42 L1001.34,338.6 L1003.08,332.95 L1004.82,327.46 L1006.56,322.12 L1008.3,316.93 L1010.03,311.88 L1011.77,306.97 L1013.51,302.19 L1015.25,297.55 L1016.99,293.03 L1018.73,288.63 L1020.46,284.35 L1022.2,280.19 L1023.94,276.13 L1025.68,272.18 L1027.42,268.34 L1029.16,264.59 L1030.89,260.94 L1032.63,257.39 L1034.37,253.93 L1036.11,250.55 L1037.85,247.26 L1039.59,244.05 L1041.32,240.92 L1043.06,237.87 L1044.8,234.89 L1046.54,231.98 L1048.28,229.15 L1050.01,226.38 L1051.75,223.68 L1053.49,221.04 L1055.23,218.46 L1056.97,215.94 L1058.71,213.48 L1060.44,211.08 L1062.18,208.73 L1063.92,206.43 L1065.66,204.19 L1067.4,201.99 L1069.14,199.84 L1070.87,197.74 L1072.61,195.69 L1074.35,193.68 L1076.09,191.71 L1077.83,189.78 L1079.57,187.89 L1081.3,186.04 L1083.04,184.24 L1084.78,182.46 L1094.02,173.62 L1103.26,165.66 L1112.5,158.45 L1121.74,151.91 L1130.98,145.95 L1140.22,140.51 L1149.46,135.51 L1158.69,130.91 L1167.93,126.67 L1177.17,122.74 L1186.41,119.11 L1195.65,115.72 L1204.89,112.57 L1214.13,109.63 L1223.37,106.88 L1232.61,104.31 L1241.85,101.89 L1251.09,99.62 L1260.33,97.48 L1269.57,95.46 L1278.81,93.56 L1288.05,91.76 L1297.28,90.05 L1306.52,88.44 L1315.76,86.91 L1325,85.45 L1334.24,84.07 L1343.48,82.76 L1352.72,81.5 L1361.96,80.31 L1371.2,79.17 L1380.44,78.08 L1389.68,77.04 L1398.92,76.05 L1408.16,75.1 L1417.4,74.19 L1426.63,73.32 L1435.87,72.48 L1445.11,71.68 L1454.35,70.91 L1463.59,70.17 L1472.83,69.46 L1482.07,68.78 L1491.31,68.13 L1500.55,67.5 L1509.79,66.89 L1519.03,66.31 L1528.27,65.74 L1537.51,65.2 L1546.75,64.68 L1555.99,64.18 L1565.22,63.69 L1574.46,63.22 L1583.7,62.77 L1592.94,62.33 L1602.18,61.91 L1611.42,61.51 L1620.66,61.11 L1629.9,60.74" fill="none" stroke="#000000" stroke-width="3.5" stroke-linejoin="round" stroke-linecap="butt"/>
<path d="M948.5,613 L949.45,604.9 L950.39,597.01 L951.34,589.32 L952.29,581.83 L953.23,574.51 L954.18,567.38 L955.12,560.41 L956.07,553.61 L957.02,546.97 L957.74,542.02 L958.46,537.14 L959.18,532.36 L959.9,527.65 L960.63,523.03 L961.35,518.49 L962.07,514.02 L962.79,509.63 L963.51,505.31 L964.24,501.06 L964.96,496.89 L965.68,492.78 L966.4,488.73 L967.12,484.75 L967.84,480.84 L968.57,476.98 L969.29,473.19 L970.01,469.45 L970.73,465.78 L971.45,462.16 L972.18,458.59 L972.9,455.08 L973.62,451.62 L974.34,448.21 L975.06,444.85 L975.78,441.54 L976.51,438.28 L977.23,435.07 L977.95,431.9 L978.67,428.78 L979.39,425.7 L980.12,422.67 L980.84,419.67 L981.56,416.72 L982.28,413.81 L983,410.94 L983.72,408.11 L984.45,405.32 L985.17,402.56 L985.89,399.84 L986.61,397.16 L987.33,394.51 L988.06,391.9 L988.78,389.32 L989.5,386.77 L990.22,384.26 L990.94,381.78 L991.66,379.33 L992.39,376.91 L993.11,374.52 L993.83,372.16 L994.55,369.83 L995.27,367.53 L996,365.26 L996.72,363.01 L997.44,360.79 L998.16,358.6 L998.88,356.44 L999.61,354.3 L1001.34,349.25 L1003.08,344.33 L1004.82,339.56 L1006.56,334.91 L1008.3,330.39 L1010.03,325.99 L1011.77,321.7 L1013.51,317.52 L1015.25,313.45 L1016.99,309.48 L1018.73,305.61 L1020.46,301.83 L1022.2,298.15 L1023.94,294.55 L1025.68,291.04 L1027.42,287.61 L1029.16,284.26 L1030.89,280.99 L1032.63,277.79 L1034.37,274.66 L1036.11,271.6 L1037.85,268.61 L1039.59,265.68 L1041.32,262.82 L1043.06,260.02 L1044.8,257.27 L1046.54,254.58 L1048.28,251.95 L1050.01,249.37 L1051.75,246.85 L1053.49,244.37 L1055.23,241.95 L1056.97,239.57 L1058.71,237.23 L1060.44,234.95 L1062.18,232.7 L1063.92,230.5 L1065.66,228.34 L1067.4,226.22 L1069.14,224.14 L1070.87,222.1 L1072.61,220.09 L1074.35,218.12 L1076.09,216.18 L1077.83,214.28 L1079.57,212.41 L1081.3,210.58 L1083.04,208.78 L1084.78,207 L1094.02,198.06 L1103.26,189.87 L1112.5,182.33 L1121.74,175.38 L1130.98,168.94 L1140.22,162.97 L1149.46,157.42 L1158.69,152.24 L1167.93,147.4 L1177.17,142.87 L1186.41,138.61 L1195.65,134.62 L1204.89,130.86 L1214.13,127.31 L1223.37,123.96 L1232.61,120.79 L1241.85,117.79 L1251.09,114.95 L1260.33,112.25 L1269.57,109.68 L1278.81,107.24 L1288.05,104.92 L1297.28,102.7 L1306.52,100.59 L1315.76,98.57 L1325,96.64 L1334.24,94.8 L1343.48,93.03 L1352.72,91.34 L1361.96,89.72 L1371.2,88.16 L1380.44,86.67 L1389.68,85.24 L1398.92,83.86 L1408.16,82.53 L1417.4,81.26 L1426.63,80.03 L1435.87,78.85 L1445.11,77.71 L1454.35,76.61 L1463.59,75.55 L1472.83,74.53 L1482.07,73.55 L1491.31,72.6 L1500.55,71.68 L1509.79,70.79 L1519.03,69.93 L1528.27,69.1 L1537.51,68.3 L1546.75,67.52 L1555.99,66.77 L1565.22,66.04 L1574.46,65.33 L1583.7,64.65 L1592.94,63.99 L1602.18,63.35 L1611.42,62.73 L1620.66,62.12 L1629.9,61.54" fill="none" stroke="#ff0000" stroke-width="3.5" stroke-linejoin="round" stroke-linecap="butt"/>
<path d="M948.5,613 L949.45,607.98 L950.39,603.01 L951.34,598.09 L952.29,593.22 L953.23,588.39 L954.18,583.6 L955.12,578.87 L956.07,574.18 L957.02,569.54 L957.74,566.03 L958.46,562.54 L959.18,559.08 L959.9,555.65 L960.63,552.25 L961.35,548.87 L962.07,545.51 L962.79,542.19 L963.51,538.88 L964.24,535.61 L964.96,532.35 L965.68,529.13 L966.4,525.93 L967.12,522.75 L967.84,519.6 L968.57,516.47 L969.29,513.37 L970.01,510.29 L970.73,507.24 L971.45,504.21 L972.18,501.2 L972.9,498.22 L973.62,495.26 L974.34,492.33 L975.06,489.42 L975.78,486.53 L976.51,483.66 L977.23,480.82 L977.95,478 L978.67,475.21 L979.39,472.43 L980.12,469.68 L980.84,466.95 L981.56,464.24 L982.28,461.56 L983,458.89 L983.72,456.25 L984.45,453.63 L985.17,451.03 L985.89,448.45 L986.61,445.89 L987.33,443.35 L988.06,440.84 L988.78,438.34 L989.5,435.86 L990.22,433.41 L990.94,430.97 L991.66,428.56 L992.39,426.16 L993.11,423.78 L993.83,421.43 L994.55,419.09 L995.27,416.77 L996,414.47 L996.72,412.19 L997.44,409.92 L998.16,407.68 L998.88,405.45 L999.61,403.24 L1001.34,398 L1003.08,392.86 L1004.82,387.82 L1006.56,382.87 L1008.3,378.02 L1010.03,373.27 L1011.77,368.61 L1013.51,364.03 L1015.25,359.55 L1016.99,355.15 L1018.73,350.84 L1020.46,346.61 L1022.2,342.46 L1023.94,338.39 L1025.68,334.39 L1027.42,330.48 L1029.16,326.63 L1030.89,322.86 L1032.63,319.16 L1034.37,315.53 L1036.11,311.96 L1037.85,308.46 L1039.59,305.03 L1041.32,301.66 L1043.06,298.35 L1044.8,295.1 L1046.54,291.91 L1048.28,288.77 L1050.01,285.69 L1051.75,282.67 L1053.49,279.7 L1055.23,276.79 L1056.97,273.92 L1058.71,271.11 L1060.44,268.35 L1062.18,265.63 L1063.92,262.96 L1065.66,260.33 L1067.4,257.75 L1069.14,255.22 L1070.87,252.73 L1072.61,250.28 L1074.35,247.87 L1076.09,245.5 L1077.83,243.17 L1079.57,240.88 L1081.3,238.62 L1083.04,236.4 L1084.78,234.22 L1091.13,226.55 L1097.48,219.3 L1103.84,212.46 L1110.19,205.99 L1116.54,199.87 L1122.89,194.07 L1129.24,188.56 L1135.6,183.33 L1141.95,178.36 L1148.3,173.63 L1154.65,169.12 L1161,164.82 L1167.36,160.72 L1173.71,156.8 L1180.06,153.05 L1186.41,149.47 L1192.76,146.03 L1199.12,142.74 L1205.47,139.59 L1211.82,136.56 L1218.17,133.65 L1224.52,130.85 L1230.88,128.16 L1237.23,125.57 L1243.58,123.07 L1249.93,120.67 L1256.28,118.35 L1262.64,116.11 L1268.99,113.95 L1275.34,111.86 L1281.69,109.84 L1288.05,107.89 L1294.4,106 L1300.75,104.18 L1307.1,102.41 L1313.45,100.69 L1319.81,99.03 L1326.16,97.42 L1332.51,95.85 L1338.86,94.33 L1345.21,92.86 L1351.57,91.43 L1357.92,90.03 L1364.27,88.68 L1370.62,87.36 L1376.97,86.08 L1383.33,84.84 L1389.68,83.62 L1396.03,82.44 L1402.38,81.29 L1408.73,80.17 L1415.09,79.07 L1421.44,78 L1427.79,76.96 L1434.14,75.95 L1440.49,74.96 L1446.85,73.99 L1453.2,73.04 L1459.55,72.12" fill="none" stroke="#0000ff" stroke-width="3.5" stroke-linejoin="round" stroke-linecap="butt"/>
<path d="M948.5,613 L949.45,607.39 L950.39,601.88 L951.34,596.47 L952.29,591.16 L953.23,585.93 L954.18,580.8 L955.12,575.75 L956.07,570.78 L957.02,565.9 L957.74,562.23 L958.46,558.61 L959.18,555.03 L959.9,551.5 L960.63,548.01 L961.35,544.56 L962.07,541.16 L962.79,537.79 L963.51,534.47 L964.24,531.19 L964.96,527.94 L965.68,524.73 L966.4,521.57 L967.12,518.43 L967.84,515.34 L968.57,512.28 L969.29,509.25 L970.01,506.26 L970.73,503.3 L971.45,500.38 L972.18,497.48 L972.9,494.62 L973.62,491.8 L974.34,489 L975.06,486.23 L975.78,483.49 L976.51,480.79 L977.23,478.11 L977.95,475.46 L978.67,472.84 L979.39,470.24 L980.12,467.68 L980.84,465.13 L981.56,462.62 L982.28,460.13 L983,457.67 L983.72,455.23 L984.45,452.82 L985.17,450.43 L985.89,448.07 L986.61,445.73 L987.33,443.41 L988.06,441.11 L988.78,438.84 L989.5,436.59 L990.22,434.36 L990.94,432.16 L991.66,429.97 L992.39,427.81 L993.11,425.66 L993.83,423.54 L994.55,421.44 L995.27,419.35 L996,417.29 L996.72,415.24 L997.44,413.22 L998.16,411.21 L998.88,409.22 L999.61,407.25 L1001.34,402.57 L1003.08,398 L1004.82,393.52 L1006.56,389.14 L1008.3,384.85 L1010.03,380.64 L1011.77,376.52 L1013.51,372.49 L1015.25,368.53 L1016.99,364.65 L1018.73,360.85 L1020.46,357.11 L1022.2,353.45 L1023.94,349.86 L1025.68,346.34 L1027.42,342.88 L1029.16,339.48 L1030.89,336.15 L1032.63,332.87 L1034.37,329.65 L1036.11,326.49 L1037.85,323.39 L1039.59,320.33 L1041.32,317.33 L1043.06,314.38 L1044.8,311.48 L1046.54,308.63 L1048.28,305.82 L1050.01,303.06 L1051.75,300.34 L1053.49,297.67 L1055.23,295.04 L1056.97,292.45 L1058.71,289.9 L1060.44,287.39 L1062.18,284.92 L1063.92,282.48 L1065.66,280.08 L1067.4,277.72 L1069.14,275.39 L1070.87,273.1 L1072.61,270.84 L1074.35,268.61 L1076.09,266.42 L1077.83,264.25 L1079.57,262.12 L1081.3,260.01 L1083.04,257.94 L1084.78,255.89 L1091.13,248.64 L1097.48,241.73 L1103.84,235.14 L1110.19,228.85 L1116.54,222.83 L1122.89,217.06 L1129.24,211.54 L1135.6,206.24 L1141.95,201.14 L1148.3,196.24 L1154.65,191.53 L1161,186.98 L1167.36,182.6 L1173.71,178.38 L1180.06,174.29 L1186.41,170.34 L1192.76,166.52 L1199.12,162.83 L1205.47,159.24 L1211.82,155.77 L1218.17,152.4 L1224.52,149.13 L1230.88,145.95 L1237.23,142.87 L1243.58,139.86 L1249.93,136.94 L1256.28,134.09 L1262.64,131.32 L1268.99,128.62 L1275.34,125.99 L1281.69,123.42 L1288.05,120.91 L1294.4,118.46 L1300.75,116.06 L1307.1,113.72 L1313.45,111.44 L1319.81,109.2 L1326.16,107.01 L1332.51,104.86 L1338.86,102.76 L1345.21,100.71 L1351.57,98.69 L1357.92,96.71 L1364.27,94.77 L1370.62,92.87 L1376.97,91 L1383.33,89.17 L1389.68,87.37 L1396.03,85.6 L1402.38,83.86 L1408.73,82.15 L1415.09,80.47 L1421.44,78.82 L1427.79,77.19 L1434.14,75.59 L1440.49,74.02 L1446.85,72.47 L1453.2,70.94 L1459.55,69.44" fill="none" stroke="#009000" stroke-width="3.5" stroke-linejoin="round" stroke-linecap="butt"/>
<path d="M948.5,613 L949.45,608.92 L950.39,604.87 L951.34,600.86 L952.29,596.88 L953.23,592.94 L954.18,589.02 L955.12,585.14 L956.07,581.3 L957.02,577.49 L957.74,574.6 L958.46,571.73 L959.18,568.88 L959.9,566.05 L960.63,563.24 L961.35,560.44 L962.07,557.67 L962.79,554.91 L963.51,552.17 L964.24,549.45 L964.96,546.74 L965.68,544.06 L966.4,541.39 L967.12,538.74 L967.84,536.11 L968.57,533.49 L969.29,530.89 L970.01,528.31 L970.73,525.75 L971.45,523.2 L972.18,520.67 L972.9,518.15 L973.62,515.66 L974.34,513.17 L975.06,510.71 L975.78,508.26 L976.51,505.83 L977.23,503.41 L977.95,501.01 L978.67,498.63 L979.39,496.26 L980.12,493.91 L980.84,491.57 L981.56,489.25 L982.28,486.95 L983,484.66 L983.72,482.38 L984.45,480.12 L985.17,477.87 L985.89,475.64 L986.61,473.43 L987.33,471.23 L988.06,469.04 L988.78,466.87 L989.5,464.71 L990.22,462.57 L990.94,460.44 L991.66,458.33 L992.39,456.22 L993.11,454.14 L993.83,452.06 L994.55,450 L995.27,447.96 L996,445.93 L996.72,443.91 L997.44,441.9 L998.16,439.91 L998.88,437.93 L999.61,435.96 L1001.34,431.28 L1003.08,426.67 L1004.82,422.13 L1006.56,417.67 L1008.3,413.27 L1010.03,408.95 L1011.77,404.69 L1013.51,400.49 L1015.25,396.36 L1016.99,392.3 L1018.73,388.3 L1020.46,384.36 L1022.2,380.48 L1023.94,376.65 L1025.68,372.89 L1027.42,369.18 L1029.16,365.53 L1030.89,361.94 L1032.63,358.4 L1034.37,354.91 L1036.11,351.47 L1037.85,348.09 L1039.59,344.75 L1041.32,341.46 L1043.06,338.22 L1044.8,335.03 L1046.54,331.89 L1048.28,328.79 L1050.01,325.73 L1051.75,322.72 L1053.49,319.75 L1055.23,316.83 L1056.97,313.94 L1058.71,311.1 L1060.44,308.3 L1062.18,305.53 L1063.92,302.8 L1065.66,300.11 L1067.4,297.46 L1069.14,294.85 L1070.87,292.27 L1072.61,289.72 L1074.35,287.21 L1076.09,284.74 L1077.83,282.29 L1079.57,279.88 L1081.3,277.5 L1083.04,275.15 L1084.78,272.84 L1091.13,264.62 L1097.48,256.78 L1103.84,249.3 L1110.19,242.15 L1116.54,235.31 L1122.89,228.75 L1129.24,222.48 L1135.6,216.46 L1141.95,210.68 L1148.3,205.13 L1154.65,199.8 L1161,194.66 L1167.36,189.72 L1173.71,184.96 L1180.06,180.37 L1186.41,175.94 L1192.76,171.66 L1199.12,167.53 L1205.47,163.54 L1211.82,159.67 L1218.17,155.93 L1224.52,152.3 L1230.88,148.79 L1237.23,145.38 L1243.58,142.08 L1249.93,138.86 L1256.28,135.75 L1262.64,132.71 L1268.99,129.77 L1275.34,126.9 L1281.69,124.1 L1288.05,121.38 L1294.4,118.73 L1300.75,116.15 L1307.1,113.63 L1313.45,111.17 L1319.81,108.77 L1326.16,106.43 L1332.51,104.14 L1338.86,101.9 L1345.21,99.71 L1351.57,97.57 L1357.92,95.48 L1364.27,93.43 L1370.62,91.42 L1376.97,89.45 L1383.33,87.53 L1389.68,85.64 L1396.03,83.79 L1402.38,81.97 L1408.73,80.19 L1415.09,78.44 L1421.44,76.72 L1427.79,75.03 L1434.14,73.38 L1440.49,71.75 L1446.85,70.15 L1453.2,68.57 L1459.55,67.02" fill="none" stroke="#ff00ff" stroke-width="3.5" stroke-linejoin="round" stroke-linecap="butt"/>
<rect x="932" y="5.4" width="714.5" height="635.2" fill="none" stroke="#000" stroke-width="2"/>
<line x1="921.4" y1="613" x2="932" y2="613" stroke="#000" stroke-width="2"/>
<text x="914.9" y="620" text-anchor="end" font-size="25.5" font-weight="bold" font-family="Liberation Sans, Arial, sans-serif">0.0</text>
<line x1="926" y1="557.77" x2="932" y2="557.77" stroke="#000" stroke-width="2"/>
<line x1="921.4" y1="502.54" x2="932" y2="502.54" stroke="#000" stroke-width="2"/>
<text x="914.9" y="509.54" text-anchor="end" font-size="25.5" font-weight="bold" font-family="Liberation Sans, Arial, sans-serif">0.2</text>
<line x1="926" y1="447.31" x2="932" y2="447.31" stroke="#000" stroke-width="2"/>
<line x1="921.4" y1="392.08" x2="932" y2="392.08" stroke="#000" stroke-width="2"/>
<text x="914.9" y="399.08" text-anchor="end" font-size="25.5" font-weight="bold" font-family="Liberation Sans, Arial, sans-serif">0.4</text>
<line x1="926" y1="336.85" x2="932" y2="336.85" stroke="#000" stroke-width="2"/>
<line x1="921.4" y1="281.62" x2="932" y2="281.62" stroke="#000" stroke-width="2"/>
<text x="914.9" y="288.62" text-anchor="end" font-size="25.5" font-weight="bold" font-family="Liberation Sans, Arial, sans-serif">0.6</text>
<line x1="926" y1="226.39" x2="932" y2="226.39" stroke="#000" stroke-width="2"/>
<line x1="921.4" y1="171.16" x2="932" y2="171.16" stroke="#000" stroke-width="2"/>
<text x="914.9" y="178.16" text-anchor="end" font-size="25.5" font-weight="bold" font-family="Liberation Sans, Arial, sans-serif">0.8</text>
<line x1="926" y1="115.93" x2="932" y2="115.93" stroke="#000" stroke-width="2"/>
<line x1="921.4" y1="60.7" x2="932" y2="60.7" stroke="#000" stroke-width="2"/>
<text x="914.9" y="67.7" text-anchor="end" font-size="25.5" font-weight="bold" font-family="Liberation Sans, Arial, sans-serif">1.0</text>
<line x1="926" y1="5.47" x2="932" y2="5.47" stroke="#000" stroke-width="2"/>
<line x1="948.5" y1="640.6" x2="948.5" y2="651" stroke="#000" stroke-width="2"/>
<text x="948.5" y="677" text-anchor="middle" font-size="25.5" font-weight="bold" font-family="Liberation Sans, Arial, sans-serif">0</text>
<line x1="1033.67" y1="640.6" x2="1033.67" y2="646.1" stroke="#000" stroke-width="2"/>
<line x1="1118.85" y1="640.6" x2="1118.85" y2="651" stroke="#000" stroke-width="2"/>
<text x="1118.85" y="677" text-anchor="middle" font-size="25.5" font-weight="bold" font-family="Liberation Sans, Arial, sans-serif">10</text>
<line x1="1204.03" y1="640.6" x2="1204.03" y2="646.1" stroke="#000" stroke-width="2"/>
<line x1="1289.2" y1="640.6" x2="1289.2" y2="651" stroke="#000" stroke-width="2"/>
<text x="1289.2" y="677" text-anchor="middle" font-size="25.5" font-weight="bold" font-family="Liberation Sans, Arial, sans-serif">20</text>
<line x1="1374.38" y1="640.6" x2="1374.38" y2="646.1" stroke="#000" stroke-width="2"/>
<line x1="1459.55" y1="640.6" x2="1459.55" y2="651" stroke="#000" stroke-width="2"/>
<text x="1459.55" y="677" text-anchor="middle" font-size="25.5" font-weight="bold" font-family="Liberation Sans, Arial, sans-serif">30</text>
<line x1="1544.72" y1="640.6" x2="1544.72" y2="646.1" stroke="#000" stroke-width="2"/>
<line x1="1629.9" y1="640.6" x2="1629.9" y2="651" stroke="#000" stroke-width="2"/>
<text x="1629.9" y="677" text-anchor="middle" font-size="25.5" font-weight="bold" font-family="Liberation Sans, Arial, sans-serif">40</text>
<rect x="1418.7" y="431.8" width="203.7" height="188.6" fill="#fff" stroke="#333" stroke-width="1.3"/>
<rect x="1449.2" y="445.3" width="14" height="14" fill="#4f4f4f"/>
<text x="1498.9" y="462.7" font-size="30.6" font-family="Liberation Sans, Arial, sans-serif">1 bar</text>
<circle cx="1456.2" cy="489.15" r="7.9" fill="#f04242"/>
<text x="1498.9" y="499.55" font-size="30.6" font-family="Liberation Sans, Arial, sans-serif">500 bar</text>
<path d="M1456.2,514.93 L1465.85,531.53 L1446.55,531.53Z" fill="#1a70e0"/>
<text x="1498.9" y="536.4" font-size="30.6" font-family="Liberation Sans, Arial, sans-serif">1000 bar</text>
<path d="M1446.55,557.32 L1465.85,557.32 L1456.2,573.92Z" fill="#3aad6a"/>
<text x="1498.9" y="573.25" font-size="30.6" font-family="Liberation Sans, Arial, sans-serif">1500 bar</text>
<path d="M1456.2,589.4 L1466.5,599.7 L1456.2,610 L1445.9,599.7Z" fill="#ff00ff"/>
<text x="1498.9" y="610.1" font-size="30.6" font-family="Liberation Sans, Arial, sans-serif">2000 bar</text>
<text transform="translate(938.5,59.8) scale(1.0,1)" font-size="51" font-weight="bold" font-family="Liberation Sans, Arial, sans-serif">B</text>
<text transform="translate(1288.8,725.6) scale(0.99,1.075)" text-anchor="middle" font-size="29.5" font-weight="bold" font-family="Liberation Sans, Arial, sans-serif">[BSA]<tspan font-size="17.9" dy="10.9">total</tspan><tspan dy="-10.9"> / </tspan><tspan font-family="Liberation Serif, serif" font-weight="normal">&#181;</tspan>M</text>
<g transform="translate(859.1,503) rotate(-90)" font-weight="bold" font-size="30.2" font-family="Liberation Sans, Arial, sans-serif">
<text x="-0.8" y="0" font-family="Liberation Serif, serif" font-weight="normal" font-size="28">&#916;</text>
<text transform="translate(17.5,0) skewX(-13.5)" font-size="31.4" letter-spacing="-0.55">F = F-F</text>
<text transform="translate(117.5,12.2) skewX(-13.5)" font-size="17.3">0</text>
<text x="134.5" y="0">(normalized)</text>
</g>
</svg></body></html>
